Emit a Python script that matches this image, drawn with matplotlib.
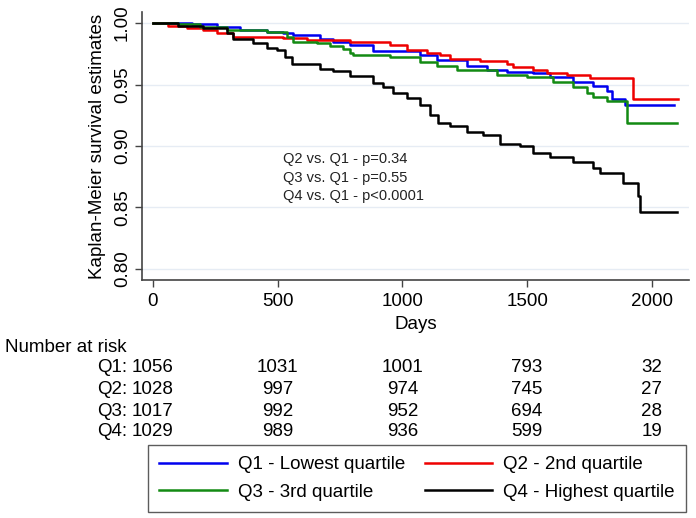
import matplotlib
matplotlib.use("Agg")
import matplotlib.pyplot as plt
from matplotlib.lines import Line2D

plt.rcParams['font.family'] = ['Liberation Sans', 'DejaVu Sans']

# ---- data ----
q1_t = [0, 155, 257, 349, 457, 521, 561, 670, 722, 790, 882, 1071, 1139, 1259, 1339, 1419, 1524, 1592, 1684, 1764, 1820, 1840, 1892, 2089]
q1_s = [1.0, 0.999, 0.997, 0.994, 0.993, 0.992, 0.990, 0.987, 0.985, 0.982, 0.977, 0.974, 0.970, 0.965, 0.962, 0.960, 0.959, 0.956, 0.952, 0.949, 0.945, 0.938, 0.933, 0.933]

q2_t = [0, 60, 136, 200, 257, 321, 521, 617, 790, 950, 1018, 1100, 1150, 1191, 1311, 1419, 1443, 1524, 1580, 1660, 1752, 1925, 2105]
q2_s = [1.0, 0.998, 0.996, 0.994, 0.992, 0.989, 0.988, 0.986, 0.985, 0.982, 0.978, 0.976, 0.974, 0.971, 0.969, 0.967, 0.964, 0.962, 0.959, 0.958, 0.955, 0.938, 0.938]

q3_t = [0, 100, 188, 297, 457, 537, 561, 657, 710, 762, 790, 802, 950, 1071, 1139, 1219, 1379, 1500, 1604, 1684, 1740, 1764, 1820, 1900, 2101]
q3_s = [1.0, 0.999, 0.997, 0.994, 0.993, 0.989, 0.985, 0.984, 0.981, 0.979, 0.976, 0.974, 0.972, 0.968, 0.965, 0.962, 0.958, 0.956, 0.952, 0.948, 0.943, 0.940, 0.937, 0.919, 0.919]

q4_t = [0, 100, 200, 297, 321, 401, 457, 497, 529, 557, 670, 722, 790, 882, 922, 962, 1018, 1071, 1111, 1143, 1191, 1259, 1323, 1391, 1472, 1524, 1592, 1684, 1764, 1792, 1884, 1945, 1953, 2101]
q4_s = [1.0, 0.998, 0.996, 0.992, 0.987, 0.984, 0.980, 0.978, 0.972, 0.967, 0.963, 0.961, 0.957, 0.951, 0.948, 0.943, 0.939, 0.933, 0.925, 0.919, 0.916, 0.911, 0.909, 0.902, 0.900, 0.894, 0.891, 0.887, 0.882, 0.878, 0.870, 0.859, 0.846, 0.846]

labels = ["Q1 - Lowest quartile", "Q2 - 2nd quartile", "Q3 - 3rd quartile", "Q4 - Highest quartile"]
colors = ["#0000ee", "#ee0000", "#138a13", "#000000"]

risk_days = [0, 500, 1000, 1500, 2000]
risk_groups = ["Q1", "Q2", "Q3", "Q4"]
risk_q1 = [1056, 1031, 1001, 793, 32]
risk_q2 = [1028, 997, 974, 745, 27]
risk_q3 = [1017, 992, 952, 694, 28]
risk_q4 = [1029, 989, 936, 599, 19]

pvals = ["Q2 vs. Q1 - p=0.34", "Q3 vs. Q1 - p=0.55", "Q4 vs. Q1 - p<0.0001"]

xticks = [0, 500, 1000, 1500, 2000]
yticks = [0.80, 0.85, 0.90, 0.95, 1.00]

FS = 13.5

# ---- figure ----
W, H = 696, 518
fig = plt.figure(figsize=(W / 100, H / 100), dpi=100)
ax = fig.add_axes([142 / W, 1 - 280 / H, (689 - 142) / W, (280 - 12) / H])

for t, s, c in zip([q1_t, q2_t, q3_t, q4_t], [q1_s, q2_s, q3_s, q4_s], colors):
    ax.step(t, s, where='post', color=c, lw=1.8, zorder=3)

ax.set_xlim(-44, 2149)
ax.set_ylim(0.791, 1.009)
ax.set_xticks(xticks)
ax.set_yticks(yticks)
ax.set_yticklabels([f"{v:.2f}" for v in yticks], rotation=90, va='center')
ax.tick_params(axis='both', labelsize=FS, length=5, width=1.0, color='#444444', direction='out')
ax.tick_params(axis='y', pad=3)
ax.tick_params(axis='x', pad=4)
ax.grid(axis='y', color='#e6ecf4', lw=1.0, zorder=0)
ax.set_axisbelow(True)
for sp in ['top', 'right']:
    ax.spines[sp].set_visible(False)
for sp in ['left', 'bottom']:
    ax.spines[sp].set_color('#444444')
    ax.spines[sp].set_linewidth(1.2)

ax.set_xlabel("Days", fontsize=FS, labelpad=5)
ax.set_ylabel("Kaplan-Meier survival estimates", fontsize=FS, labelpad=6)

for i, txt in enumerate(pvals):
    ax.text(521, 0.8894 - i * 0.0151, txt, fontsize=10.5, va='center', ha='left', color='#222222')

# ---- number at risk table ----
fig.text(5 / W, 1 - 347 / H, "Number at risk", fontsize=FS, va='center', ha='left')
rows = [risk_q1, risk_q2, risk_q3, risk_q4]
row_y = [368, 390, 411, 432]
trans = ax.transData
for g, vals, yp in zip(risk_groups, rows, row_y):
    yf = 1 - yp / H
    for d, v in zip(risk_days, vals):
        xpix = trans.transform((d, 1.0))[0]
        fig.text(xpix / W, yf, str(v), fontsize=FS, ha='center', va='center')
    x0 = trans.transform((0, 1.0))[0]
    fig.text((x0 - 26) / W, yf, g + ":", fontsize=FS, ha='right', va='center')

# ---- legend (row-major order: Q1 Q2 / Q3 Q4) ----
handles = [Line2D([], [], color=c, lw=1.8) for c in colors]
order = [0, 2, 1, 3]
leg = fig.legend([handles[i] for i in order], [labels[i] for i in order], ncol=2, fontsize=FS,
                 bbox_to_anchor=(148 / W, 1 - 512 / H, (686 - 148) / W, (512 - 447) / H),
                 loc='lower left', mode='expand', frameon=True, fancybox=False,
                 handlelength=3.6, handletextpad=0.6, borderaxespad=0.0,
                 labelspacing=0.55, borderpad=0.6, columnspacing=1.0)
leg.get_frame().set_edgecolor('#333333')
leg.get_frame().set_linewidth(1.0)

fig.savefig("out.png", dpi=100)
